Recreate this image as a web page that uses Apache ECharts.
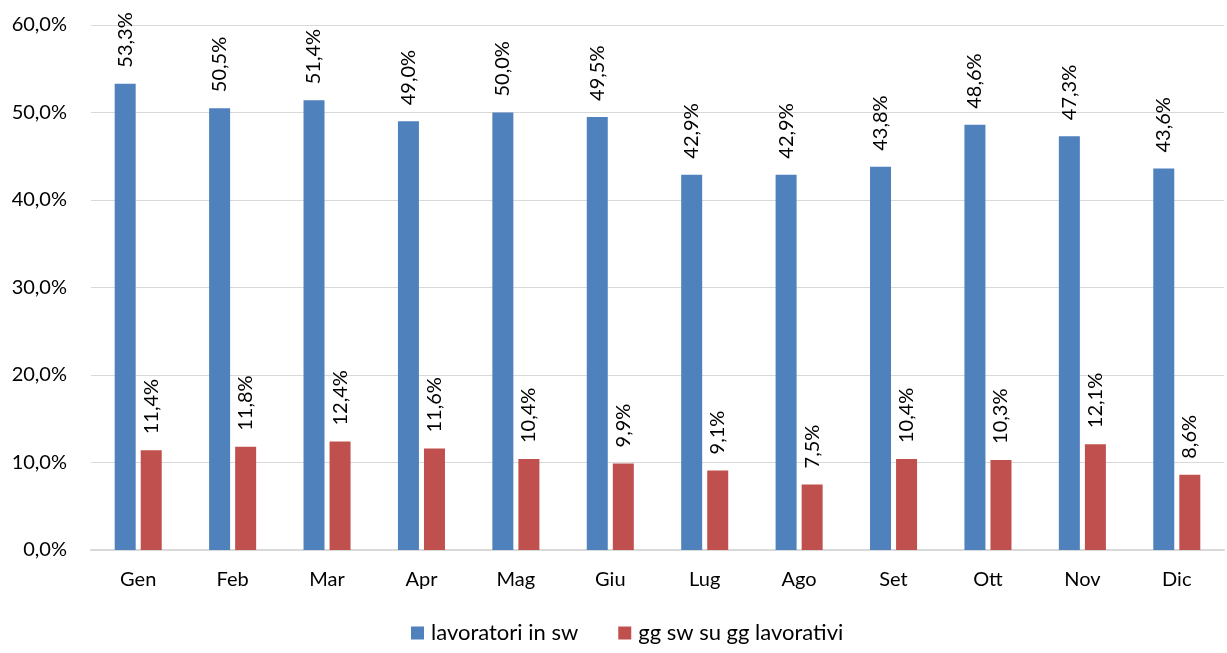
<!DOCTYPE html>
<html><head><meta charset="utf-8">
<script src="https://cdn.jsdelivr.net/npm/echarts@6/dist/echarts.min.js"></script>
<style>html,body{margin:0;padding:0;background:#fff}#c{width:1227px;height:653px}</style>
</head><body><div id="c"></div>
<script>
const categories = ['Gen','Feb','Mar','Apr','Mag','Giu','Lug','Ago','Set','Ott','Nov','Dic'];
const lavoratori = [53.3,50.5,51.4,49.0,50.0,49.5,42.9,42.9,43.8,48.6,47.3,43.6];
const ggsw = [11.4,11.8,12.4,11.6,10.4,9.9,9.1,7.5,10.4,10.3,12.1,8.6];
const seriesNames = ['lavoratori in sw','gg sw su gg lavorativi'];
const fmt = v => v.toFixed(1).replace('.', ',') + '%';
const font = 'Lato';
const fs = 20;
const chart = echarts.init(document.getElementById('c'));
const lbl = {
  show: true, position: 'top', rotate: 90, align: 'left', verticalAlign: 'middle',
  distance: 16, fontFamily: font, fontSize: fs, color: '#000',
  formatter: p => fmt(p.value)
};
chart.setOption({
  animation: false,
  textStyle: {fontFamily: font},
  grid: {left: 91, right: 3, top: 25, bottom: 103},
  legend: {
    bottom: 4, left: 406, itemWidth: 13, itemHeight: 13, itemGap: 40,
    icon: 'rect', textStyle: {fontFamily: font, fontSize: 22, color: '#000', padding: [0,0,0,2]},
    data: seriesNames
  },
  xAxis: {
    type: 'category', data: categories,
    axisLine: {lineStyle: {color: '#d9d9d9', width: 2}},
    axisTick: {show: false},
    axisLabel: {fontFamily: font, fontSize: fs, color: '#000', margin: 20}
  },
  yAxis: {
    type: 'value', min: 0, max: 60, interval: 10,
    axisLine: {show: false}, axisTick: {show: false},
    splitLine: {lineStyle: {color: '#d9d9d9', width: 1}},
    axisLabel: {fontFamily: font, fontSize: fs, color: '#000', margin: 24,
      formatter: v => v.toFixed(1).replace('.', ',') + '%'}
  },
  series: [
    {name: seriesNames[0], type: 'bar', data: lavoratori, barWidth: 21, barGap: '24%',
     itemStyle: {color: '#4f81bd'}, label: lbl},
    {name: seriesNames[1], type: 'bar', data: ggsw, barWidth: 21,
     itemStyle: {color: '#c0504d'}, label: lbl}
  ]
});
</script></body></html>
